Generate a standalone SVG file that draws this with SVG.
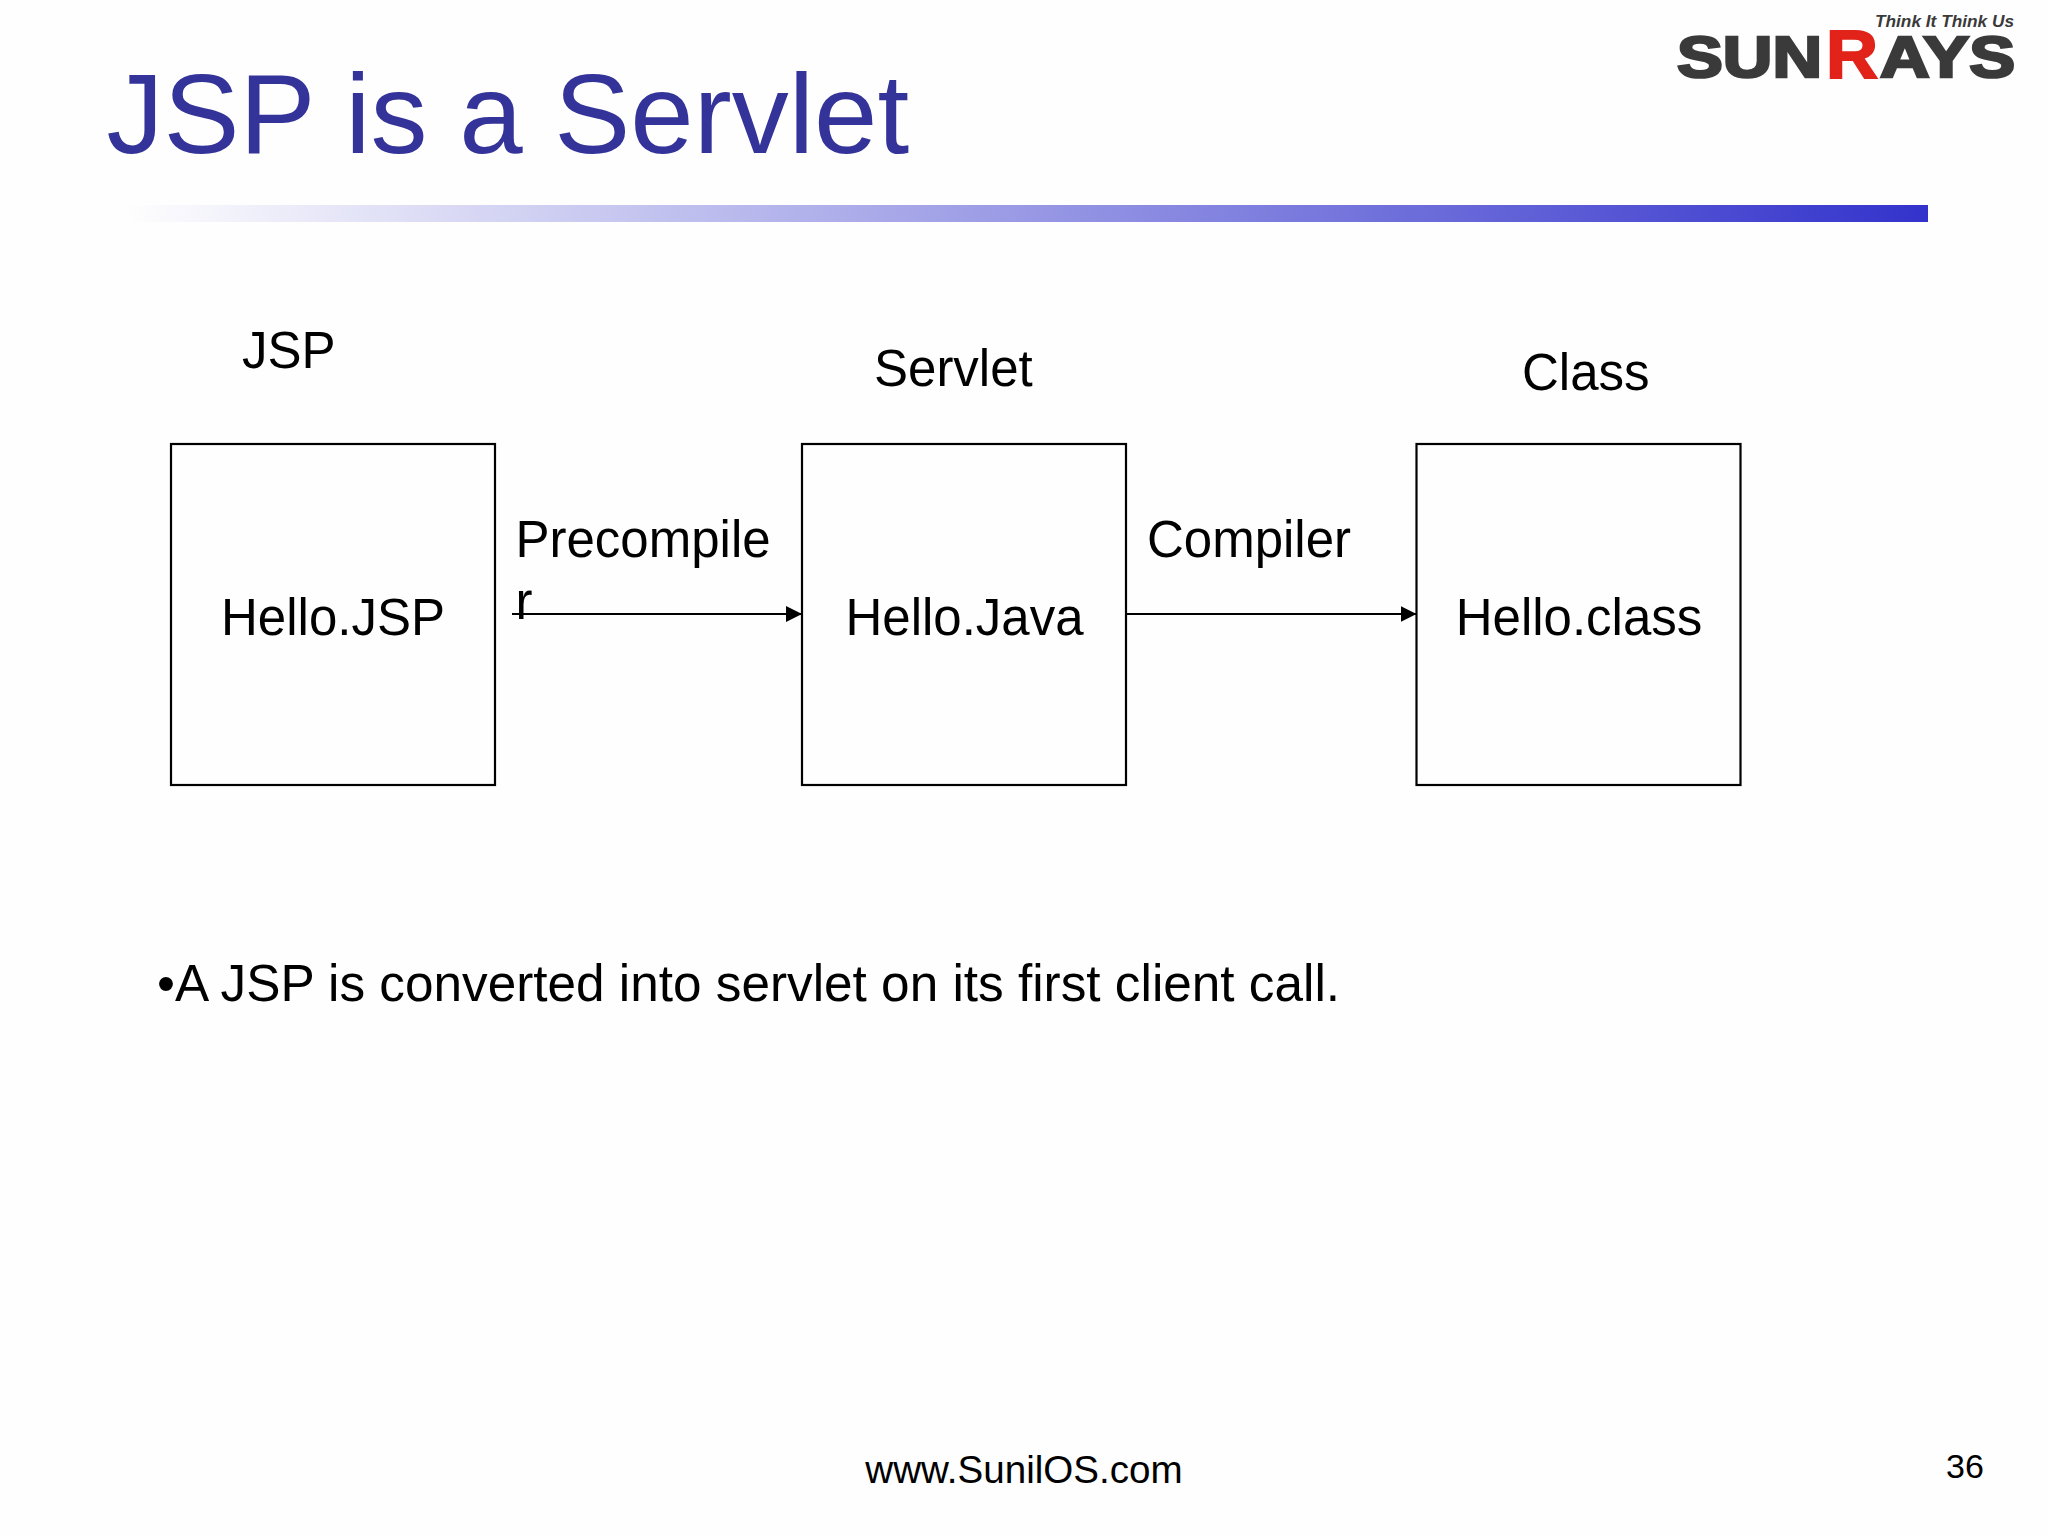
<svg xmlns="http://www.w3.org/2000/svg" width="2048" height="1536" viewBox="0 0 2048 1536">
<style>
text{font-family:"Liberation Sans",Arial,sans-serif;fill:#000}
.t{font-size:51px}
.box{fill:none;stroke:#000;stroke-width:2.2}
.c{stroke:#000;stroke-width:2;fill:none;marker-end:url(#arr)}
.logo{font-weight:bold;fill:#3a3a3a;stroke:#3a3a3a;stroke-width:2.6;font-size:57px}
</style>
<defs>
<linearGradient id="bar" x1="0" x2="1" y1="0" y2="0"><stop offset="0" stop-color="#3333cc" stop-opacity="0"/><stop offset="1" stop-color="#3333cc"/></linearGradient>
<marker id="arr" markerUnits="userSpaceOnUse" markerWidth="16" markerHeight="16" refX="16" refY="8" orient="auto"><path d="M0 0L16 8L0 16Z" fill="#000"/></marker>
</defs>
<rect width="2048" height="1536" fill="#fefefe"/>
<g id="title"><text x="106.5" y="153" style="font-size:114px;fill:#333399">JSP is a Servlet</text></g>
<rect id="rule" x="125" y="205" width="1803" height="17" fill="url(#bar)"/>
<g id="logo">
<text x="1875" y="27" style="font-size:17px;font-weight:bold;font-style:italic;fill:#3a3a3a" textLength="139" lengthAdjust="spacingAndGlyphs">Think It Think Us</text>
<text class="logo" x="1677" y="77" textLength="145" lengthAdjust="spacingAndGlyphs">SUN</text>
<text class="logo" x="1826" y="78" textLength="52" lengthAdjust="spacingAndGlyphs" style="fill:#e2231a;stroke:#e2231a;stroke-width:2;font-size:68px">R</text>
<text class="logo" x="1880" y="77" textLength="135" lengthAdjust="spacingAndGlyphs">AYS</text>
</g>
<g id="label-jsp"><text class="t" x="242" y="368">JSP</text></g>
<g id="label-servlet"><text class="t" x="874" y="385.5">Servlet</text></g>
<g id="label-class"><text class="t" x="1522" y="389.5">Class</text></g>
<g id="node-jsp"><rect class="box" x="171" y="444" width="324" height="341"/><text class="t" x="333" y="635" text-anchor="middle">Hello.JSP</text></g>
<g id="node-java"><rect class="box" x="802" y="444" width="324" height="341"/><text class="t" x="964.5" y="635" text-anchor="middle">Hello.Java</text></g>
<g id="node-class"><rect class="box" x="1416.5" y="444" width="324" height="341"/><text class="t" x="1579" y="635" text-anchor="middle">Hello.class</text></g>
<g id="label-precompiler"><text class="t" x="515.5" y="556.5">Precompile</text><text class="t" x="515.5" y="619">r</text></g>
<g id="label-compiler"><text class="t" x="1147" y="556.5">Compiler</text></g>
<g id="connectors">
<line class="c" x1="512" y1="614" x2="802" y2="614"/>
<line class="c" x1="1126" y1="614" x2="1416.5" y2="614"/>
</g>
<g id="bullet"><text class="t" x="157" y="1001" style="font-size:51.3px">•A JSP is converted into servlet on its first client call.</text></g>
<g id="footer"><text x="1024" y="1483" text-anchor="middle" style="font-size:38.6px">www.SunilOS.com</text><text x="1946" y="1478" style="font-size:34px">36</text></g>
</svg>
